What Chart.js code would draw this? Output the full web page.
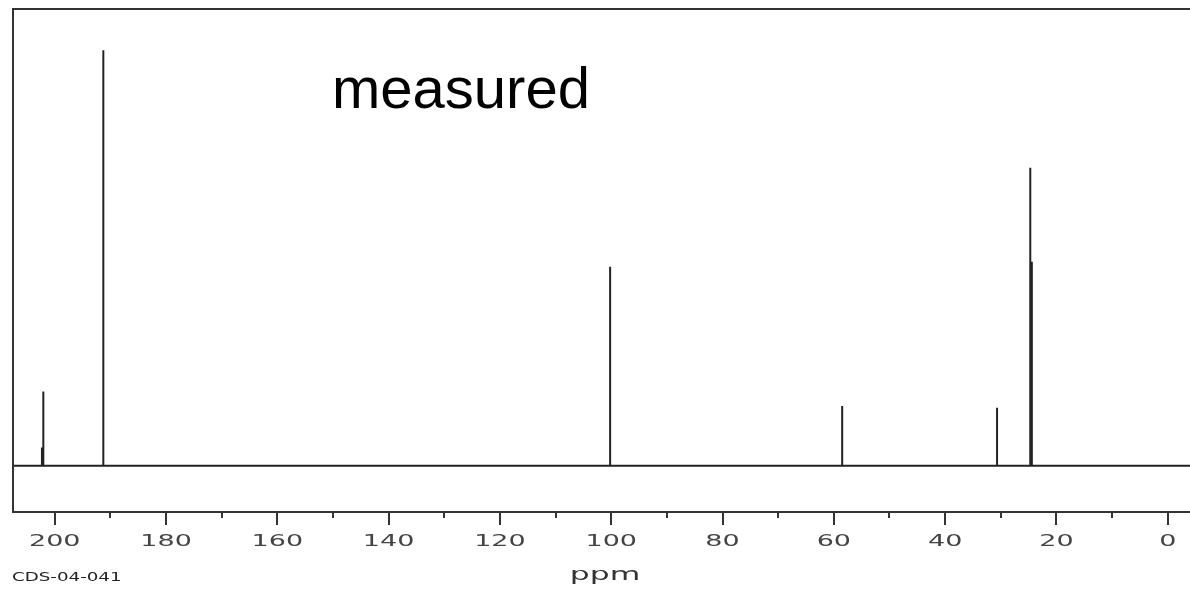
<!DOCTYPE html>
<html>
<head>
<meta charset="utf-8">
<script src="https://cdn.jsdelivr.net/npm/chart.js@4"></script>
<style>
    html, body { margin: 0; padding: 0; background: #fff; }
    #wrap { width: 1190px; height: 590px; }
</style>
</head>
<body>
<div id="wrap"><canvas id="nmr_chart"></canvas></div>
<script>
// peak positions (ppm) and heights (tallest = 100)
const peakShifts  = [202.3, 202.05, 191.27, 100.2, 58.5, 30.67, 24.7, 24.42];
const peakHeights = [4.4,   17.9,   100,    47.9,  14.4, 14.0,  71.7, 49.1];

const majorTicks = [200, 180, 160, 140, 120, 100, 80, 60, 40, 20, 0];
const minorTicks = [190, 170, 150, 130, 110, 90, 70, 50, 30, 10];

const xMin = -4.0, xMax = 207.5;
const yMin = -11.1, yMax = 109.9;

// build the trace: flat baseline with a vertical stick at every peak
const trace = [{ x: xMax, y: 0 }];
peakShifts.forEach((p, i) => {
    trace.push({ x: p, y: 0 });
    trace.push({ x: p, y: peakHeights[i] });
    trace.push({ x: p, y: 0 });
});
trace.push({ x: xMin, y: 0 });

// stretched text helper (the original uses a wide bitmap font)
function wideText(ctx, text, x, y, size, sx, color, align) {
    ctx.save();
    ctx.font = size + "px 'DejaVu Sans'";
    ctx.fillStyle = color;
    ctx.textBaseline = "middle";
    const w = ctx.measureText(text).width * sx;
    let left = x;
    if (align === "center") left = x - w / 2;
    ctx.translate(left, y);
    ctx.scale(sx, 1);
    ctx.textAlign = "left";
    ctx.fillText(text, 0, 0);
    ctx.restore();
}

const framePlugin = {
    id: "frame",
    afterDraw(chart) {
        const ctx = chart.ctx;
        const area = chart.chartArea;
        const xs = chart.scales.x;
        ctx.save();
        ctx.strokeStyle = "#333";
        ctx.lineWidth = 2;
        ctx.beginPath();
        ctx.moveTo(area.right, area.top);
        ctx.lineTo(area.left, area.top);
        ctx.lineTo(area.left, area.bottom);
        ctx.lineTo(area.right, area.bottom);
        ctx.stroke();

        // tick marks
        ctx.lineWidth = 2;
        majorTicks.forEach(v => {
            const px = Math.round(xs.getPixelForValue(v));
            ctx.beginPath();
            ctx.moveTo(px, area.bottom);
            ctx.lineTo(px, area.bottom + 13);
            ctx.stroke();
        });
        minorTicks.forEach(v => {
            const px = Math.round(xs.getPixelForValue(v));
            ctx.beginPath();
            ctx.moveTo(px, area.bottom);
            ctx.lineTo(px, area.bottom + 6);
            ctx.stroke();
        });
        ctx.restore();

        // tick labels
        majorTicks.forEach(v => {
            wideText(ctx, String(v), xs.getPixelForValue(v), 542, 15, 1.8, "#444", "center");
        });

        // axis title and sample id
        wideText(ctx, "ppm", 605, 576, 17, 1.85, "#333", "center");
        wideText(ctx, "CDS-04-041", 12, 578, 12, 1.52, "#222", "left");

        // caption inside the plot
        ctx.save();
        ctx.font = "58px 'Liberation Sans', Arial, sans-serif";
        ctx.fillStyle = "#000";
        ctx.textBaseline = "alphabetic";
        ctx.fillText("measured", 332, 108);
        ctx.restore();
    }
};

const ctx = document.getElementById("nmr_chart").getContext("2d");
const nmr_chart = new Chart(ctx, {
    type: "line",
    data: {
        datasets: [{
            data: trace,
            borderColor: "#222",
            borderWidth: 2,
            pointRadius: 0,
            tension: 0,
            fill: false
        }]
    },
    options: {
        responsive: true,
        maintainAspectRatio: false,
        animation: false,
        layout: { padding: { left: 13, top: 9, right: 0, bottom: 78 } },
        plugins: {
            legend: { display: false },
            tooltip: { enabled: false }
        },
        scales: {
            x: { type: "linear", reverse: true, min: xMin, max: xMax, display: false },
            y: { type: "linear", min: yMin, max: yMax, display: false }
        }
    },
    plugins: [framePlugin]
});
</script>
</body>
</html>
